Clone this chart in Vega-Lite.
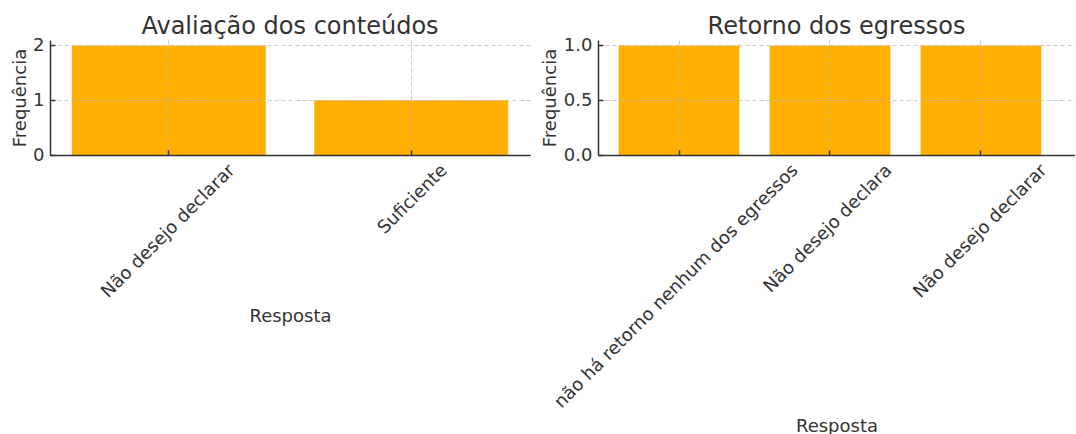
{
  "$schema": "https://vega.github.io/schema/vega-lite/v6.json",
  "padding": {"left": 11, "top": 15, "right": 0, "bottom": 0},
  "background": "white",
  "spacing": 11,
  "config": {
    "font": "DejaVu Sans",
    "view": {"stroke": null},
    "axis": {
      "labelFont": "DejaVu Sans", "labelFontSize": 18, "labelColor": "#333", "labelLimit": 500,
      "titleFont": "DejaVu Sans", "titleFontSize": 18, "titleFontWeight": "normal", "titleColor": "#333",
      "domainColor": "#333", "domainWidth": 1.5, "tickColor": "#333", "tickWidth": 1.5, "tickSize": -5,
      "gridColor": "#bbb", "gridDash": [4, 3], "gridWidth": 0.8, "zindex": 1
    },
    "title": {"font": "DejaVu Sans", "fontSize": 24, "fontWeight": "normal", "color": "#333", "baseline": "bottom", "offset": -3}
  },
  "hconcat": [
    {
      "width": 480, "height": 115,
      "title": "Avaliação dos conteúdos",
      "data": {"values": [
        {"Resposta": "Não desejo declarar", "Frequência": 2},
        {"Resposta": "Suficiente", "Frequência": 1}
      ]},
      "mark": {"type": "bar", "color": "#ffb000"},
      "encoding": {
        "x": {"field": "Resposta", "type": "nominal", "sort": null,
          "scale": {"paddingInner": 0.2, "paddingOuter": 0.09},
          "axis": {"title": "Resposta", "labelAngle": -45, "labelAlign": "right", "labelBaseline": "top",
            "labelPadding": 11, "bandPosition": 0.5, "grid": true, "zindex": 1,
            "titleBaseline": "alphabetic", "titleY": 166,
            "labelOffset": {"condition": {"test": "datum.value === 'Suficiente'", "value": 27}, "value": 57}}},
        "y": {"field": "Frequência", "type": "quantitative",
          "scale": {"domain": [0, 2.1], "nice": false},
          "axis": {"tickCount": 2, "format": "d", "labelOverlap": false, "title": "Frequência", "labelPadding": 11, "titlePadding": 3, "zindex": 1}}
      }
    },
    {
      "width": 477, "height": 115,
      "title": "Retorno dos egressos",
      "data": {"values": [
        {"Resposta": "não há retorno nenhum dos egressos", "Frequência": 1},
        {"Resposta": "Não desejo declara", "Frequência": 1},
        {"Resposta": "Não desejo declarar", "Frequência": 1}
      ]},
      "mark": {"type": "bar", "color": "#ffb000"},
      "encoding": {
        "x": {"field": "Resposta", "type": "nominal", "sort": null,
          "scale": {"paddingInner": 0.2, "paddingOuter": 0.18, "align": 0.38},
          "axis": {"title": "Resposta", "labelAngle": -45, "labelAlign": "right", "labelBaseline": "top",
            "labelPadding": 11, "bandPosition": 0.5, "grid": true, "zindex": 1,
            "titleBaseline": "alphabetic", "titleY": 276,
            "labelOffset": {"condition": [
              {"test": "datum.value === 'não há retorno nenhum dos egressos'", "value": 110},
              {"test": "datum.value === 'Não desejo declara'", "value": 53}
            ], "value": 57}}},
        "y": {"field": "Frequência", "type": "quantitative",
          "scale": {"domain": [0, 1.05], "nice": false},
          "axis": {"values": [0, 0.5, 1], "format": ".1f", "labelOverlap": false, "title": "Frequência", "labelPadding": 11, "titlePadding": 4, "zindex": 1}}
      }
    }
  ]
}
